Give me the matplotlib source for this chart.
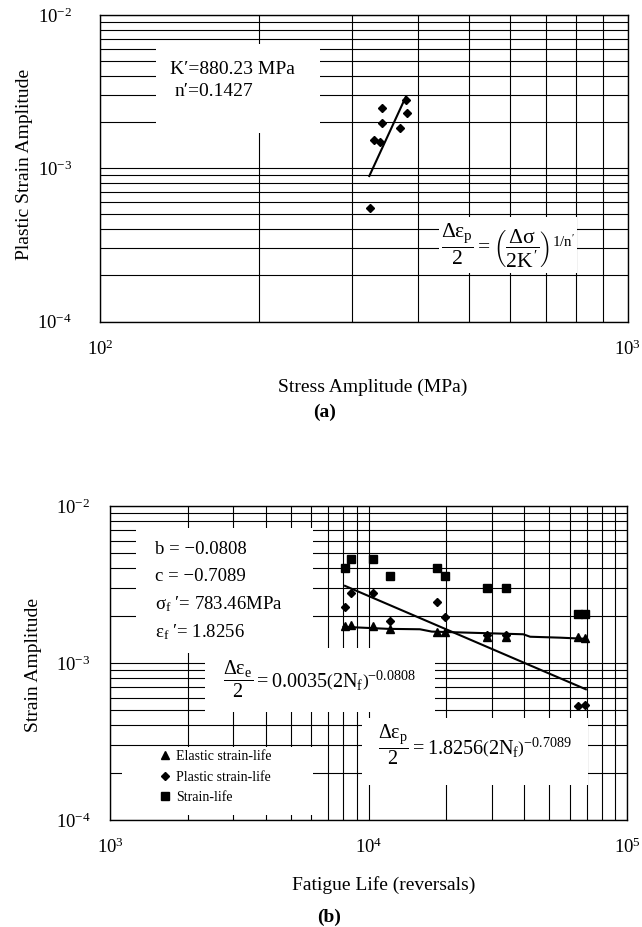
import matplotlib
matplotlib.use('Agg')
import matplotlib.pyplot as plt
from matplotlib.patches import Rectangle
from matplotlib.ticker import LogLocator, LogFormatterSciNotation, NullFormatter

plt.rcParams['font.family'] = ['Liberation Serif', 'DejaVu Serif']
plt.rcParams['mathtext.fontset'] = 'custom'
plt.rcParams['mathtext.rm'] = 'Liberation Serif'
plt.rcParams['mathtext.it'] = 'Liberation Serif'
plt.rcParams['mathtext.bf'] = 'Liberation Serif:bold'
plt.rcParams['axes.unicode_minus'] = False

# ---------------- data: (a) cyclic stress-strain ----------------
stress_amp = [325, 330, 340, 343, 343, 371, 380, 382]
plastic_strain_amp = [5.5e-4, 1.53e-3, 1.48e-3, 2.48e-3, 1.98e-3, 1.84e-3, 2.8e-3, 2.29e-3]
fit_stress = [324, 380]
fit_plastic = [8.9e-4, 2.93e-3]

# ---------------- data: (b) strain-life ----------------
reversals = [8110, 8530, 10380, 12110, 18360, 19820, 28840, 34060, 64900, 68900]
elastic_amp = [1.72e-3, 1.74e-3, 1.71e-3, 1.64e-3, 1.57e-3, 1.57e-3, 1.47e-3, 1.47e-3, 1.47e-3, 1.44e-3]
plastic_amp = [2.29e-3, 2.78e-3, 2.78e-3, 1.85e-3, 2.45e-3, 1.97e-3, 1.50e-3, 1.50e-3, 5.32e-4, 5.40e-4]
total_amp = [4.05e-3, 4.58e-3, 4.58e-3, 3.58e-3, 4.05e-3, 3.58e-3, 2.99e-3, 2.99e-3, 2.04e-3, 2.04e-3]
elastic_fit_x = [7990, 11930, 15810, 17560, 39700, 42200, 55100, 69800]
elastic_fit_y = [1.70e-3, 1.65e-3, 1.64e-3, 1.585e-3, 1.524e-3, 1.47e-3, 1.45e-3, 1.425e-3]
plastic_fit_x = [8110, 69300]
plastic_fit_y = [3.10e-3, 6.8e-4]

legend_labels = ['Elastic strain-life', 'Plastic strain-life', 'Strain-life']

W, H = 642, 927
fig = plt.figure(figsize=(W / 100, H / 100), dpi=100)


def px_axes(l, t, r, b):
    return [l / W, 1 - b / H, (r - l) / W, (b - t) / H]


def style_log_axes(ax, xlim, ylim, xpad, ypad):
    ax.set_xscale('log')
    ax.set_yscale('log')
    ax.set_xlim(*xlim)
    ax.set_ylim(*ylim)
    for axis in (ax.xaxis, ax.yaxis):
        axis.set_major_locator(LogLocator(base=10))
        axis.set_minor_locator(LogLocator(base=10, subs=range(2, 10)))
        axis.set_major_formatter(LogFormatterSciNotation())
        axis.set_minor_formatter(NullFormatter())
    ax.set_axisbelow(True)
    ax.grid(True, which='both', color='black', lw=0.8)
    ax.tick_params(which='both', length=0, labelsize=13.5)
    ax.tick_params(axis='x', pad=xpad)
    ax.tick_params(axis='y', pad=ypad)
    for s in ax.spines.values():
        s.set_color('black')
        s.set_linewidth(1.0)


def white_box(ax, x0, y0, x1, y1):
    ax.add_patch(Rectangle((x0, y0), x1 - x0, y1 - y0, transform=ax.transAxes,
                           facecolor='white', edgecolor='none', zorder=1.5))


# ---------------- (a) ----------------
ax1 = fig.add_axes(px_axes(100, 15, 627.5, 321.5))
style_log_axes(ax1, (100, 1000), (1e-4, 1e-2), 13, 20)
ax1.plot(stress_amp, plastic_strain_amp, linestyle='none', marker='D', ms=4.3,
         color='black', zorder=3)
ax1.plot(fit_stress, fit_plastic, color='black', lw=1.5, zorder=3)

white_box(ax1, 0.106, 0.614, 0.417, 0.905)
white_box(ax1, 0.643, 0.157, 0.905, 0.340)
ax1.text(0.133, 0.821, 'K\u2032=880.23 MPa', transform=ax1.transAxes,
         fontsize=14, ha='left', va='center', zorder=4)
ax1.text(0.142, 0.752, 'n\u2032=0.1427', transform=ax1.transAxes,
         fontsize=14, ha='left', va='center', zorder=4)
ax1.text(0.7735, 0.247,
         r'$\dfrac{\Delta\varepsilon_{p}}{2}=\left(\dfrac{\Delta\sigma}{2K^{\prime}}\right)^{1/n^{\prime}}$',
         transform=ax1.transAxes, fontsize=15.5, ha='center', va='center', zorder=4)

fig.text(25 / W, 1 - 164 / H, 'Plastic Strain Amplitude', rotation=90,
         fontsize=14, ha='center', va='center')
fig.text(373 / W, 1 - 387 / H, 'Stress Amplitude (MPa)', fontsize=14,
         ha='center', va='center')
fig.text(325 / W, 1 - 412 / H, '(a)', fontsize=14, fontweight='bold',
         ha='center', va='center')

# ---------------- (b) ----------------
ax2 = fig.add_axes(px_axes(110, 506, 627, 820))
style_log_axes(ax2, (1e3, 1e5), (1e-4, 1e-2), 13, 14)
h1, = ax2.plot(reversals, elastic_amp, linestyle='none', marker='^', ms=6,
               color='black', zorder=3, label=legend_labels[0])
h2, = ax2.plot(reversals, plastic_amp, linestyle='none', marker='D', ms=4.3,
               color='black', zorder=3, label=legend_labels[1])
h3, = ax2.plot(reversals, total_amp, linestyle='none', marker='s', ms=5.5,
               color='black', zorder=3, label=legend_labels[2])
ax2.plot(elastic_fit_x, elastic_fit_y, color='black', lw=1.5, zorder=3)
ax2.plot(plastic_fit_x, plastic_fit_y, color='black', lw=1.5, zorder=3)

white_box(ax2, 0.050, 0.532, 0.393, 0.930)
white_box(ax2, 0.184, 0.344, 0.629, 0.548)
white_box(ax2, 0.487, 0.111, 0.925, 0.325)
white_box(ax2, 0.023, 0.016, 0.393, 0.232)

params = ['b = \u22120.0808', 'c = \u22120.7089', '\u03c3$_{f}$ \u2032= 783.46MPa',
          '\u03b5$_{f}$ \u2032= 1.8256']
for txt, fy in zip(params, [0.860, 0.774, 0.688, 0.599]):
    ax2.text(0.087, fy, txt, transform=ax2.transAxes, fontsize=13.5,
             ha='left', va='center', zorder=4)

ax2.text(0.406, 0.447,
         r'$\dfrac{\Delta\varepsilon_{e}}{2}=0.0035\left(2N_{f}\right)^{-0.0808}$',
         transform=ax2.transAxes, fontsize=14.5, ha='center', va='center', zorder=4)
ax2.text(0.706, 0.240,
         r'$\dfrac{\Delta\varepsilon_{p}}{2}=1.8256\left(2N_{f}\right)^{-0.7089}$',
         transform=ax2.transAxes, fontsize=14.5, ha='center', va='center', zorder=4)

leg = ax2.legend(handles=[h1, h2, h3], loc='upper left',
                 bbox_to_anchor=(0.093, 0.223), frameon=False, fontsize=10,
                 handlelength=1.0, handletextpad=0.3, borderpad=0,
                 labelspacing=0.55, borderaxespad=0)
leg.set_zorder(5)

fig.text(34 / W, 1 - 665 / H, 'Strain Amplitude', rotation=90,
         fontsize=14, ha='center', va='center')
fig.text(384 / W, 1 - 885 / H, 'Fatigue Life (reversals)', fontsize=14,
         ha='center', va='center')
fig.text(329 / W, 1 - 917 / H, '(b)', fontsize=14, fontweight='bold',
         ha='center', va='center')

fig.savefig('out.png', dpi=100)
